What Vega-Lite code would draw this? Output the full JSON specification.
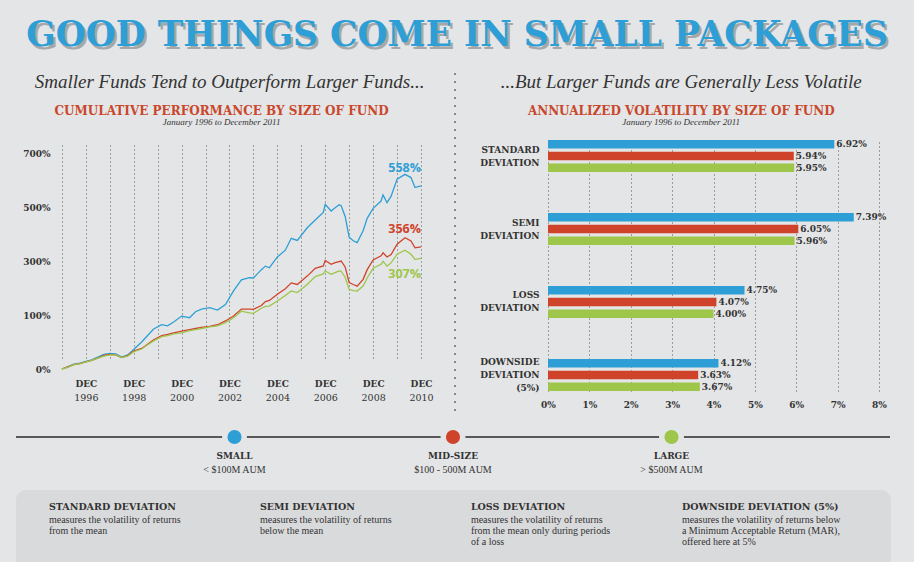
{
  "$schema": "https://vega.github.io/schema/vega-lite/v6.json",
  "background": "#e4e5e6",
  "padding": 0,
  "spacing": 0,
  "config": {
    "view": {"stroke": null},
    "font": "DejaVu Serif",
    "axis": {"labelColor": "#333333", "domain": false, "ticks": false, "title": null}
  },
  "vconcat": [
    {
      "width": 914,
      "height": 72,
      "data": {"values": [{"t": "GOOD THINGS COME IN SMALL PACKAGES"}]},
      "layer": [
        {"mark": {"type": "text", "font": "DejaVu Serif", "fontWeight": "bold", "fontSize": 34.5, "fill": "#a6a7a8", "dx": 2.5, "dy": 3}, "encoding": {"text": {"field": "t"}}},
        {"mark": {"type": "text", "font": "DejaVu Serif", "fontWeight": "bold", "fontSize": 34.5, "fill": "#2e9fd6"}, "encoding": {"text": {"field": "t"}}}
      ]
    },
    {
      "spacing": 20,
      "hconcat": [
        {
          "title": {"text": "Smaller Funds Tend to Outperform Larger Funds...", "font": "Liberation Serif", "fontStyle": "italic", "fontWeight": "normal", "fontSize": 19, "color": "#333333", "offset": 13, "anchor": "middle", "frame": "bounds", "dx": 13},
          "vconcat": [
            {
              "width": 421,
              "height": 234,
              "title": {"text": "CUMULATIVE PERFORMANCE BY SIZE OF FUND", "subtitle": "January 1996 to December 2011", "font": "DejaVu Serif", "fontWeight": "bold", "fontSize": 12, "color": "#c9472b", "subtitleFont": "Liberation Serif", "subtitleFontStyle": "italic", "subtitleFontSize": 9, "subtitleColor": "#333333", "subtitlePadding": 0, "offset": 12, "anchor": "middle", "frame": "bounds", "dx": 5},
              "resolve": {"axis": {"x": "independent"}},
              "layer": [
                {
                  "data": {"values": [
                    {"date": "1995-12-01", "Small": 0, "Mid": 0, "Large": 0},
                    {"date": "1996-03-01", "Small": 4, "Mid": 4, "Large": 3},
                    {"date": "1996-06-01", "Small": 9, "Mid": 8, "Large": 8},
                    {"date": "1996-09-01", "Small": 11, "Mid": 10, "Large": 10},
                    {"date": "1996-12-01", "Small": 14, "Mid": 13, "Large": 13},
                    {"date": "1997-03-01", "Small": 17, "Mid": 16, "Large": 16},
                    {"date": "1997-06-01", "Small": 22, "Mid": 20, "Large": 20},
                    {"date": "1997-09-01", "Small": 27, "Mid": 25, "Large": 24},
                    {"date": "1997-12-01", "Small": 29, "Mid": 27, "Large": 26},
                    {"date": "1998-03-01", "Small": 28, "Mid": 26, "Large": 26},
                    {"date": "1998-06-01", "Small": 22, "Mid": 21, "Large": 21},
                    {"date": "1998-09-01", "Small": 26, "Mid": 25, "Large": 24},
                    {"date": "1998-12-01", "Small": 36, "Mid": 33, "Large": 32},
                    {"date": "1999-04-01", "Small": 50, "Mid": 38, "Large": 37},
                    {"date": "1999-07-01", "Small": 62, "Mid": 46, "Large": 45},
                    {"date": "1999-10-01", "Small": 74, "Mid": 54, "Large": 52},
                    {"date": "2000-02-01", "Small": 82, "Mid": 62, "Large": 60},
                    {"date": "2000-05-01", "Small": 80, "Mid": 64, "Large": 62},
                    {"date": "2000-08-01", "Small": 87, "Mid": 67, "Large": 65},
                    {"date": "2000-12-01", "Small": 98, "Mid": 70, "Large": 67},
                    {"date": "2001-04-01", "Small": 95, "Mid": 73, "Large": 71},
                    {"date": "2001-07-01", "Small": 112, "Mid": 75, "Large": 73},
                    {"date": "2001-10-01", "Small": 122, "Mid": 77, "Large": 75},
                    {"date": "2002-02-01", "Small": 127, "Mid": 79, "Large": 78},
                    {"date": "2002-06-01", "Small": 118, "Mid": 82, "Large": 80},
                    {"date": "2002-10-01", "Small": 139, "Mid": 89, "Large": 86},
                    {"date": "2003-02-01", "Small": 189, "Mid": 98, "Large": 95},
                    {"date": "2003-06-01", "Small": 230, "Mid": 122, "Large": 114},
                    {"date": "2003-10-01", "Small": 238, "Mid": 122, "Large": 108},
                    {"date": "2003-12-01", "Small": 237, "Mid": 121, "Large": 106},
                    {"date": "2004-04-01", "Small": 268, "Mid": 135, "Large": 125},
                    {"date": "2004-06-01", "Small": 281, "Mid": 150, "Large": 132},
                    {"date": "2004-08-01", "Small": 275, "Mid": 154, "Large": 133},
                    {"date": "2004-12-01", "Small": 315, "Mid": 177, "Large": 152},
                    {"date": "2005-04-01", "Small": 340, "Mid": 197, "Large": 172},
                    {"date": "2005-07-01", "Small": 384, "Mid": 219, "Large": 189},
                    {"date": "2005-10-01", "Small": 376, "Mid": 213, "Large": 183},
                    {"date": "2006-03-01", "Small": 423, "Mid": 244, "Large": 213},
                    {"date": "2006-07-01", "Small": 452, "Mid": 273, "Large": 242},
                    {"date": "2006-11-01", "Small": 480, "Mid": 282, "Large": 252},
                    {"date": "2006-12-01", "Small": 510, "Mid": 302, "Large": 263},
                    {"date": "2007-03-01", "Small": 485, "Mid": 288, "Large": 251},
                    {"date": "2007-05-01", "Small": 497, "Mid": 294, "Large": 257},
                    {"date": "2007-07-01", "Small": 508, "Mid": 298, "Large": 263},
                    {"date": "2007-08-01", "Small": 505, "Mid": 300, "Large": 262},
                    {"date": "2007-10-01", "Small": 465, "Mid": 278, "Large": 240},
                    {"date": "2007-12-01", "Small": 388, "Mid": 220, "Large": 195},
                    {"date": "2008-02-01", "Small": 375, "Mid": 213, "Large": 190},
                    {"date": "2008-04-01", "Small": 368, "Mid": 207, "Large": 189},
                    {"date": "2008-07-01", "Small": 412, "Mid": 232, "Large": 207},
                    {"date": "2008-09-01", "Small": 458, "Mid": 268, "Large": 237},
                    {"date": "2008-12-01", "Small": 495, "Mid": 304, "Large": 273},
                    {"date": "2009-04-01", "Small": 522, "Mid": 319, "Large": 288},
                    {"date": "2009-05-01", "Small": 545, "Mid": 330, "Large": 299},
                    {"date": "2009-07-01", "Small": 516, "Mid": 315, "Large": 281},
                    {"date": "2009-09-01", "Small": 540, "Mid": 324, "Large": 293},
                    {"date": "2009-12-01", "Small": 603, "Mid": 362, "Large": 325},
                    {"date": "2010-04-01", "Small": 621, "Mid": 386, "Large": 340},
                    {"date": "2010-07-01", "Small": 609, "Mid": 374, "Large": 325},
                    {"date": "2010-09-01", "Small": 572, "Mid": 349, "Large": 306},
                    {"date": "2010-12-01", "Small": 578, "Mid": 352, "Large": 310}
                  ]},
                  "transform": [{"fold": ["Small", "Mid", "Large"], "as": ["size", "ret"]}],
                  "mark": {"type": "line", "strokeWidth": 1.3},
                  "encoding": {
                    "x": {"field": "date", "type": "temporal",
                      "scale": {"type": "utc", "domain": [{"year": 1993, "month": 5, "date": 1, "utc": true}, {"year": 2010, "month": 12, "date": 1, "utc": true}]},
                      "axis": {
                        "orient": "bottom",
                        "values": [
                          {"year": 1995, "month": 12, "date": 1, "utc": true}, {"year": 1996, "month": 12, "date": 1, "utc": true},
                          {"year": 1997, "month": 12, "date": 1, "utc": true}, {"year": 1998, "month": 12, "date": 1, "utc": true},
                          {"year": 1999, "month": 12, "date": 1, "utc": true}, {"year": 2000, "month": 12, "date": 1, "utc": true},
                          {"year": 2001, "month": 12, "date": 1, "utc": true}, {"year": 2002, "month": 12, "date": 1, "utc": true},
                          {"year": 2003, "month": 12, "date": 1, "utc": true}, {"year": 2004, "month": 12, "date": 1, "utc": true},
                          {"year": 2005, "month": 12, "date": 1, "utc": true}, {"year": 2006, "month": 12, "date": 1, "utc": true},
                          {"year": 2007, "month": 12, "date": 1, "utc": true}, {"year": 2008, "month": 12, "date": 1, "utc": true},
                          {"year": 2009, "month": 12, "date": 1, "utc": true}, {"year": 2010, "month": 12, "date": 1, "utc": true}
                        ],
                        "grid": true, "gridDash": [1, 3], "gridColor": "#555555", "gridOpacity": 1, "gridWidth": 1,
                        "labelExpr": "utcyear(datum.value) % 2 == 0 ? 'DEC' : ''",
                        "labelFontWeight": "bold", "labelFontSize": 9, "labelPadding": 5, "labelOverlap": false, "labelFlush": false
                      }
                    },
                    "y": {"field": "ret", "type": "quantitative",
                      "scale": {"domain": [0, 100, 700], "range": [229, 175, 13], "nice": false, "zero": false},
                      "axis": {"values": [0, 100, 300, 500, 700], "labelExpr": "datum.value + '%'", "labelFontWeight": "bold", "labelFontSize": 9, "labelPadding": 12, "offset": -62, "grid": false}
                    },
                    "color": {"field": "size", "type": "nominal", "scale": {"domain": ["Small", "Mid", "Large"], "range": ["#2e9fd6", "#d0432b", "#9dc64a"]}, "legend": null}
                  }
                },
                {
                  "data": {"values": [
                    {"size": "Small", "date": "2010-12-01", "end": 578, "label": "558%"},
                    {"size": "Mid", "date": "2010-12-01", "end": 352, "label": "356%"}
                  ]},
                  "mark": {"type": "text", "align": "right", "dy": -18, "font": "Open Sans", "fontWeight": "bold", "fontSize": 12.5},
                  "encoding": {
                    "x": {"field": "date", "type": "temporal",
                      "axis": {
                        "orient": "bottom",
                        "values": [
                          {"year": 1996, "month": 12, "date": 1, "utc": true}, {"year": 1998, "month": 12, "date": 1, "utc": true},
                          {"year": 2000, "month": 12, "date": 1, "utc": true}, {"year": 2002, "month": 12, "date": 1, "utc": true},
                          {"year": 2004, "month": 12, "date": 1, "utc": true}, {"year": 2006, "month": 12, "date": 1, "utc": true},
                          {"year": 2008, "month": 12, "date": 1, "utc": true}, {"year": 2010, "month": 12, "date": 1, "utc": true}
                        ],
                        "grid": false, "labelExpr": "'' + utcyear(datum.value)", "labelFontWeight": "normal", "labelFontSize": 9.5, "labelPadding": 18, "labelOverlap": false, "labelFlush": false
                      }
                    },
                    "y": {"field": "end", "type": "quantitative"},
                    "text": {"field": "label"},
                    "color": {"field": "size", "type": "nominal", "legend": null}
                  }
                },
                {
                  "data": {"values": [
                    {"size": "Large", "date": "2010-12-01", "end": 310, "label": "307%"}
                  ]},
                  "mark": {"type": "text", "align": "right", "dy": 16, "font": "Open Sans", "fontWeight": "bold", "fontSize": 12.5},
                  "encoding": {
                    "x": {"field": "date", "type": "temporal", "axis": null},
                    "y": {"field": "end", "type": "quantitative"},
                    "text": {"field": "label"},
                    "color": {"field": "size", "type": "nominal", "legend": null}
                  }
                }
              ]
            }
          ]
        },
        {
          "width": 1,
          "height": 271,
          "data": {"values": [{}]},
          "mark": {"type": "rule", "color": "#666666", "strokeDash": [2, 6], "strokeWidth": 1.5},
          "encoding": {
            "x": {"datum": 0, "type": "quantitative", "scale": {"domain": [0, 1]}, "axis": null},
            "y": {"datum": 0, "type": "quantitative", "scale": {"domain": [0, 1]}, "axis": null},
            "y2": {"datum": 1.247}
          }
        },
        {
          "title": {"text": "...But Larger Funds are Generally Less Volatile", "font": "Liberation Serif", "fontStyle": "italic", "fontWeight": "normal", "fontSize": 19, "color": "#333333", "offset": 13, "anchor": "middle", "frame": "bounds"},
          "vconcat": [
            {
              "width": 331,
              "height": 251,
              "title": {"text": "ANNUALIZED VOLATILITY BY SIZE OF FUND", "subtitle": "January 1996 to December 2011", "font": "DejaVu Serif", "fontWeight": "bold", "fontSize": 12, "color": "#c9472b", "subtitleFont": "Liberation Serif", "subtitleFontStyle": "italic", "subtitleFontSize": 9, "subtitleColor": "#333333", "subtitlePadding": 0, "offset": 12, "anchor": "middle", "frame": "bounds"},
              "data": {"values": [
                {"measure": "STANDARD DEVIATION", "size": "Small", "value": 6.92},
                {"measure": "STANDARD DEVIATION", "size": "Mid", "value": 5.94},
                {"measure": "STANDARD DEVIATION", "size": "Large", "value": 5.95},
                {"measure": "SEMI DEVIATION", "size": "Small", "value": 7.39},
                {"measure": "SEMI DEVIATION", "size": "Mid", "value": 6.05},
                {"measure": "SEMI DEVIATION", "size": "Large", "value": 5.96},
                {"measure": "LOSS DEVIATION", "size": "Small", "value": 4.75},
                {"measure": "LOSS DEVIATION", "size": "Mid", "value": 4.07},
                {"measure": "LOSS DEVIATION", "size": "Large", "value": 4.00},
                {"measure": "DOWNSIDE DEVIATION (5%)", "size": "Small", "value": 4.12},
                {"measure": "DOWNSIDE DEVIATION (5%)", "size": "Mid", "value": 3.63},
                {"measure": "DOWNSIDE DEVIATION (5%)", "size": "Large", "value": 3.67}
              ]},
              "transform": [{"calculate": "format(datum.value, '.2f') + '%'", "as": "label"}],
              "encoding": {
                "y": {"field": "measure", "type": "nominal",
                  "sort": ["STANDARD DEVIATION", "SEMI DEVIATION", "LOSS DEVIATION", "DOWNSIDE DEVIATION (5%)"],
                  "scale": {"paddingInner": 0.56, "paddingOuter": 0, "align": 0},
                  "axis": {"labelExpr": "split(datum.label, ' ')", "labelFontWeight": "bold", "labelFontSize": 9, "labelPadding": 9, "labelLineHeight": 13,
                    "labelOffset": {"condition": {"test": "indexof(datum.label, 'DOWNSIDE') >= 0", "value": -13}, "value": -6.5},
                    "minExtent": 72, "grid": false}
                },
                "yOffset": {"field": "size", "type": "nominal", "sort": ["Small", "Mid", "Large"], "scale": {"paddingInner": 0.27, "paddingOuter": 0}},
                "x": {"field": "value", "type": "quantitative",
                  "scale": {"domain": [0, 8], "nice": false},
                  "axis": {"values": [0, 1, 2, 3, 4, 5, 6, 7, 8], "grid": true, "gridDash": [1, 3], "gridColor": "#555555", "gridOpacity": 1, "labelExpr": "datum.value + '%'", "labelFontWeight": "bold", "labelFontSize": 9, "labelPadding": 9, "labelFlush": false}
                }
              },
              "layer": [
                {"mark": {"type": "bar"}, "encoding": {"color": {"field": "size", "type": "nominal", "scale": {"domain": ["Small", "Mid", "Large"], "range": ["#2e9fd6", "#d0432b", "#9dc64a"]}, "legend": null}}},
                {"mark": {"type": "text", "align": "left", "baseline": "middle", "dx": 2, "fontWeight": "bold", "fontSize": 9, "color": "#333333"}, "encoding": {"text": {"field": "label"}}}
              ]
            }
          ]
        }
      ]
    },
    {
      "spacing": 14,
      "hconcat": [
        {"width": 1, "height": 1, "data": {"values": []}, "mark": "point"},
        {
          "spacing": 15,
          "vconcat": [
            {
              "width": 874,
              "height": 50,
              "data": {"values": [
                {"size": "Small", "name": "SMALL", "aum": "< $100M AUM"},
                {"size": "Mid", "name": "MID-SIZE", "aum": "$100 - 500M AUM"},
                {"size": "Large", "name": "LARGE", "aum": "> $500M AUM"}
              ]},
              "encoding": {"y": {"datum": 0, "type": "quantitative", "scale": {"domain": [-1, 1]}, "axis": null}},
              "layer": [
                {"mark": {"type": "rule", "color": "#444444", "strokeWidth": 1}, "encoding": {}},
                {"mark": {"type": "circle", "size": 620, "opacity": 1, "fill": "#e4e5e6"},
                 "encoding": {"x": {"field": "name", "type": "nominal", "sort": null, "scale": {"type": "point", "padding": 1.47}, "axis": null}}},
                {"mark": {"type": "circle", "size": 200, "opacity": 1},
                 "encoding": {
                   "x": {"field": "name", "type": "nominal", "sort": null, "axis": null},
                   "fill": {"field": "size", "type": "nominal", "scale": {"domain": ["Small", "Mid", "Large"], "range": ["#2e9fd6", "#d0432b", "#9dc64a"]}, "legend": null}
                 }},
                {"mark": {"type": "text", "dy": 19, "fontWeight": "bold", "fontSize": 9, "color": "#333333"},
                 "encoding": {"x": {"field": "name", "type": "nominal", "sort": null, "axis": null}, "text": {"field": "name"}}},
                {"mark": {"type": "text", "dy": 33, "fontSize": 10, "font": "Liberation Serif", "color": "#333333"},
                 "encoding": {"x": {"field": "name", "type": "nominal", "sort": null, "axis": null}, "text": {"field": "aum"}}}
              ]
            },
            {
              "width": 875,
              "height": 80,
              "view": {"fill": "#d9dadb", "cornerRadius": 10, "stroke": null},
              "data": {"values": [
                {"term": "STANDARD DEVIATION", "desc": "measures the volatility of returns\nfrom the mean"},
                {"term": "SEMI DEVIATION", "desc": "measures the volatility of returns\nbelow the mean"},
                {"term": "LOSS DEVIATION", "desc": "measures the volatility of returns\nfrom the mean only during periods\nof a loss"},
                {"term": "DOWNSIDE DEVIATION (5%)", "desc": "measures the volatility of returns below\na Minimum Acceptable Return (MAR),\noffered here at 5%"}
              ]},
              "encoding": {
                "x": {"field": "term", "type": "nominal", "sort": null, "bandPosition": 0, "scale": {"type": "band", "paddingInner": 0.165, "paddingOuter": 0.156}, "axis": null},
                "y": {"datum": 0, "type": "quantitative", "scale": {"domain": [-1, 1]}, "axis": null}
              },
              "layer": [
                {"mark": {"type": "text", "align": "left", "baseline": "middle", "dy": -23, "fontWeight": "bold", "fontSize": 9.5, "color": "#333333"}, "encoding": {"text": {"field": "term"}}},
                {"mark": {"type": "text", "align": "left", "baseline": "top", "dy": -15, "lineBreak": "\n", "lineHeight": 11, "font": "Liberation Serif", "fontSize": 10, "color": "#333333"}, "encoding": {"text": {"field": "desc"}}}
              ]
            }
          ]
        }
      ]
    }
  ]
}
